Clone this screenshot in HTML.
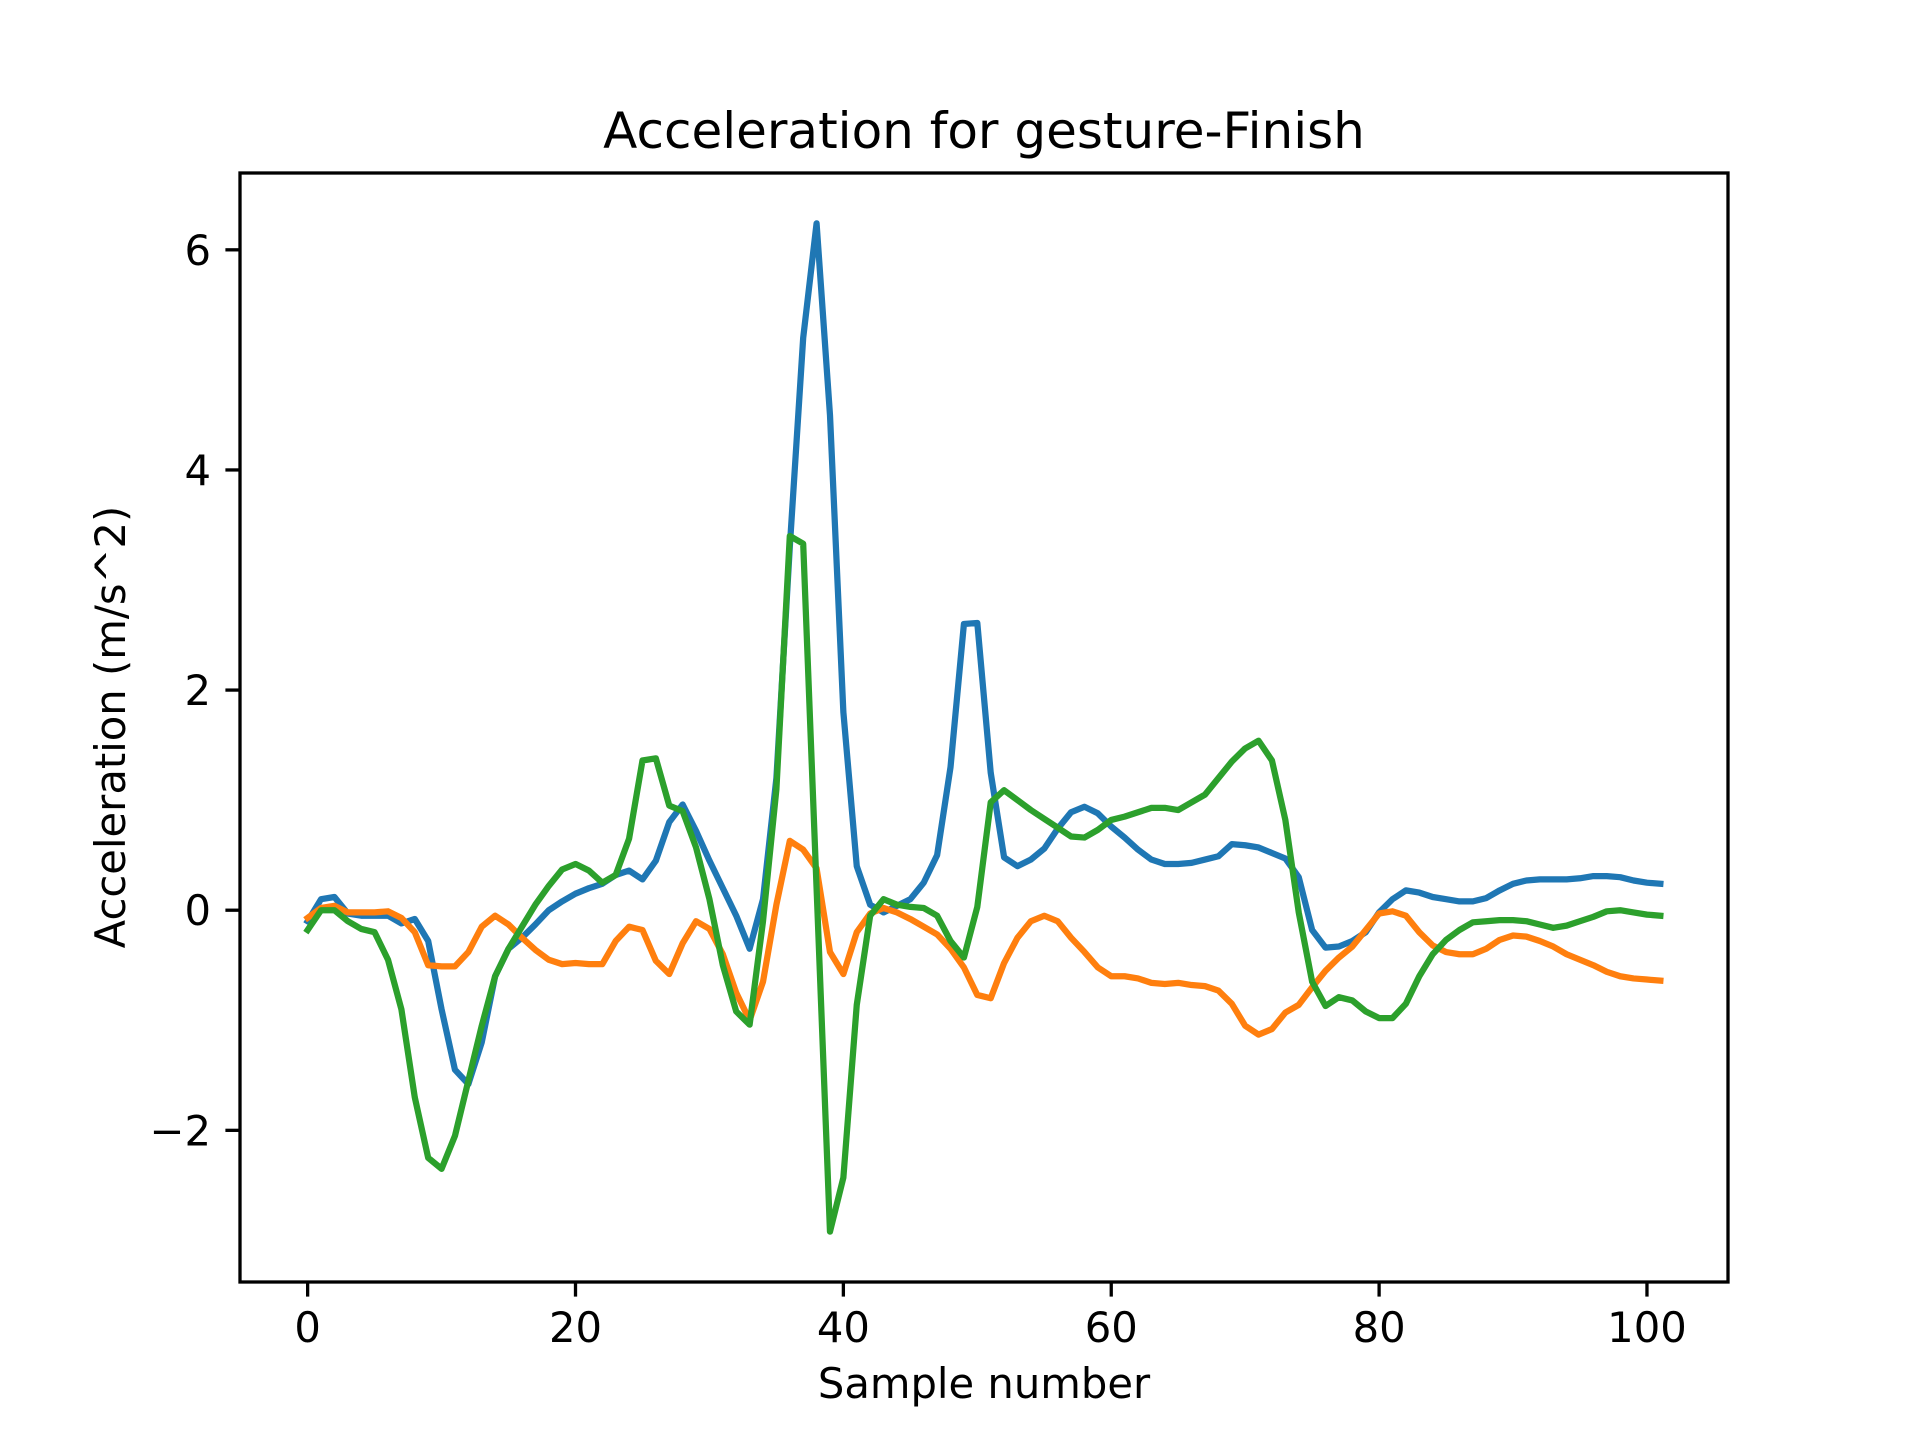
<!DOCTYPE html>
<html><head><meta charset="utf-8"><style>
html,body{margin:0;padding:0;background:#fff;}
svg{display:block;font-family:"DejaVu Sans","Liberation Sans",sans-serif;}
</style></head><body>
<svg id="chart" width="1920" height="1440" viewBox="0 0 1920 1440" xmlns="http://www.w3.org/2000/svg">
<rect x="0" y="0" width="1920" height="1440" fill="#fff"/>
<text x="984" y="148" font-size="50" text-anchor="middle">Acceleration for gesture-Finish</text>
<g id="series"></g>
<g id="axes"></g>
<rect x="240" y="173" width="1488" height="1109" fill="none" stroke="#000" stroke-width="3.3"/>
<text x="984" y="1398" font-size="41.7" text-anchor="middle">Sample number</text>
<text x="0" y="0" font-size="41.7" text-anchor="middle" transform="translate(125,727) rotate(-90)">Acceleration (m/s^2)</text>
</svg>
<script>
const xTicks = [0, 20, 40, 60, 80, 100];
const yTicks = [-2, 0, 2, 4, 6];
const yTickLabels = ["\u22122", "0", "2", "4", "6"];
const seriesX = [-0.1,0.1,0.12,-0.03,-0.05,-0.05,-0.05,-0.12,-0.08,-0.28,-0.9,-1.45,-1.58,-1.2,-0.6,-0.35,-0.25,-0.13,0.0,0.08,0.15,0.2,0.24,0.32,0.36,0.28,0.45,0.8,0.96,0.72,0.45,0.2,-0.05,-0.35,0.1,1.2,3.3,5.2,6.24,4.5,1.8,0.4,0.05,-0.02,0.04,0.1,0.25,0.5,1.3,2.6,2.61,1.25,0.48,0.4,0.46,0.56,0.74,0.89,0.94,0.88,0.76,0.66,0.55,0.46,0.42,0.42,0.43,0.46,0.49,0.6,0.59,0.57,0.52,0.47,0.3,-0.18,-0.34,-0.33,-0.28,-0.2,-0.02,0.1,0.18,0.16,0.12,0.1,0.08,0.08,0.11,0.18,0.24,0.27,0.28,0.28,0.28,0.29,0.31,0.31,0.3,0.27,0.25,0.24];
const seriesY = [-0.07,0.02,0.04,-0.02,-0.02,-0.02,-0.01,-0.07,-0.2,-0.5,-0.51,-0.51,-0.38,-0.15,-0.05,-0.13,-0.25,-0.36,-0.45,-0.49,-0.48,-0.49,-0.49,-0.28,-0.15,-0.18,-0.46,-0.58,-0.3,-0.1,-0.17,-0.4,-0.75,-1.0,-0.65,0.05,0.63,0.55,0.38,-0.38,-0.58,-0.2,-0.03,0.02,-0.02,-0.08,-0.15,-0.22,-0.35,-0.52,-0.77,-0.8,-0.48,-0.25,-0.1,-0.05,-0.1,-0.25,-0.38,-0.52,-0.6,-0.6,-0.62,-0.66,-0.67,-0.66,-0.68,-0.69,-0.73,-0.85,-1.05,-1.13,-1.08,-0.93,-0.86,-0.7,-0.55,-0.43,-0.33,-0.18,-0.03,-0.01,-0.05,-0.2,-0.32,-0.38,-0.4,-0.4,-0.35,-0.27,-0.23,-0.24,-0.28,-0.33,-0.4,-0.45,-0.5,-0.56,-0.6,-0.62,-0.63,-0.64];
const seriesZ = [-0.18,0.0,0.0,-0.1,-0.17,-0.2,-0.45,-0.9,-1.7,-2.25,-2.35,-2.05,-1.55,-1.05,-0.6,-0.35,-0.15,0.05,0.22,0.37,0.42,0.36,0.25,0.32,0.65,1.36,1.38,0.95,0.9,0.57,0.1,-0.5,-0.92,-1.04,-0.1,1.1,3.4,3.33,0.2,-2.92,-2.43,-0.86,-0.05,0.1,0.05,0.03,0.02,-0.05,-0.28,-0.43,0.03,0.98,1.09,1.0,0.91,0.83,0.75,0.67,0.66,0.73,0.82,0.85,0.89,0.93,0.93,0.91,0.98,1.05,1.2,1.35,1.47,1.54,1.36,0.82,-0.02,-0.65,-0.87,-0.79,-0.82,-0.92,-0.98,-0.98,-0.85,-0.6,-0.4,-0.27,-0.18,-0.11,-0.1,-0.09,-0.09,-0.1,-0.13,-0.16,-0.14,-0.1,-0.06,-0.01,0.0,-0.02,-0.04,-0.05];
const seriesNames = ["x", "y", "z"];

const NS = "http://www.w3.org/2000/svg";
const L = 240, R = 1728, T = 173, B = 1282;
const n = seriesX.length;
const xmin = -0.05 * (n - 1), xmax = (n - 1) * 1.05;
const all = seriesX.concat(seriesY, seriesZ);
const dmin = Math.min(...all), dmax = Math.max(...all);
const ymin = dmin - 0.05 * (dmax - dmin), ymax = dmax + 0.05 * (dmax - dmin);
function sx(v){ return L + (v - xmin) / (xmax - xmin) * (R - L); }
function sy(v){ return B - (v - ymin) / (ymax - ymin) * (B - T); }

const axes = document.getElementById('axes');
xTicks.forEach(t => {
  const ln = document.createElementNS(NS, 'line');
  ln.setAttribute('x1', sx(t)); ln.setAttribute('x2', sx(t));
  ln.setAttribute('y1', B); ln.setAttribute('y2', B + 14.6);
  ln.setAttribute('stroke', '#000'); ln.setAttribute('stroke-width', '3.3');
  
  
  axes.appendChild(ln);
  const tx = document.createElementNS(NS, 'text');
  tx.setAttribute('x', sx(t)); tx.setAttribute('y', B + 60);
  tx.setAttribute('font-size', '41.7'); tx.setAttribute('text-anchor', 'middle');
  tx.textContent = String(t);
  
  
  axes.appendChild(tx);
});
yTicks.forEach((t, i) => {
  const ln = document.createElementNS(NS, 'line');
  ln.setAttribute('x1', L - 14.6); ln.setAttribute('x2', L);
  ln.setAttribute('y1', sy(t)); ln.setAttribute('y2', sy(t));
  ln.setAttribute('stroke', '#000'); ln.setAttribute('stroke-width', '3.3');
  
  
  axes.appendChild(ln);
  const tx = document.createElementNS(NS, 'text');
  tx.setAttribute('x', L - 29); tx.setAttribute('y', sy(t) + 15);
  tx.setAttribute('font-size', '41.7'); tx.setAttribute('text-anchor', 'end');
  tx.textContent = yTickLabels[i];
  
  
  axes.appendChild(tx);
});

const colors = ["#1f77b4", "#ff7f0e", "#2ca02c"];
const seriesG = document.getElementById('series');
[seriesX, seriesY, seriesZ].forEach((arr, k) => {
  const pts = arr.map((v, i) => sx(i).toFixed(2) + ',' + sy(v).toFixed(2)).join(' ');
  const pl = document.createElementNS(NS, 'polyline');
  pl.setAttribute('points', pts);
  pl.setAttribute('fill', 'none');
  pl.setAttribute('stroke', colors[k]);
  pl.setAttribute('stroke-width', '6.25');
  pl.setAttribute('stroke-linejoin', 'round');
  pl.setAttribute('stroke-linecap', 'square');
  
  
  seriesG.appendChild(pl);
});
</script>
</body></html>
